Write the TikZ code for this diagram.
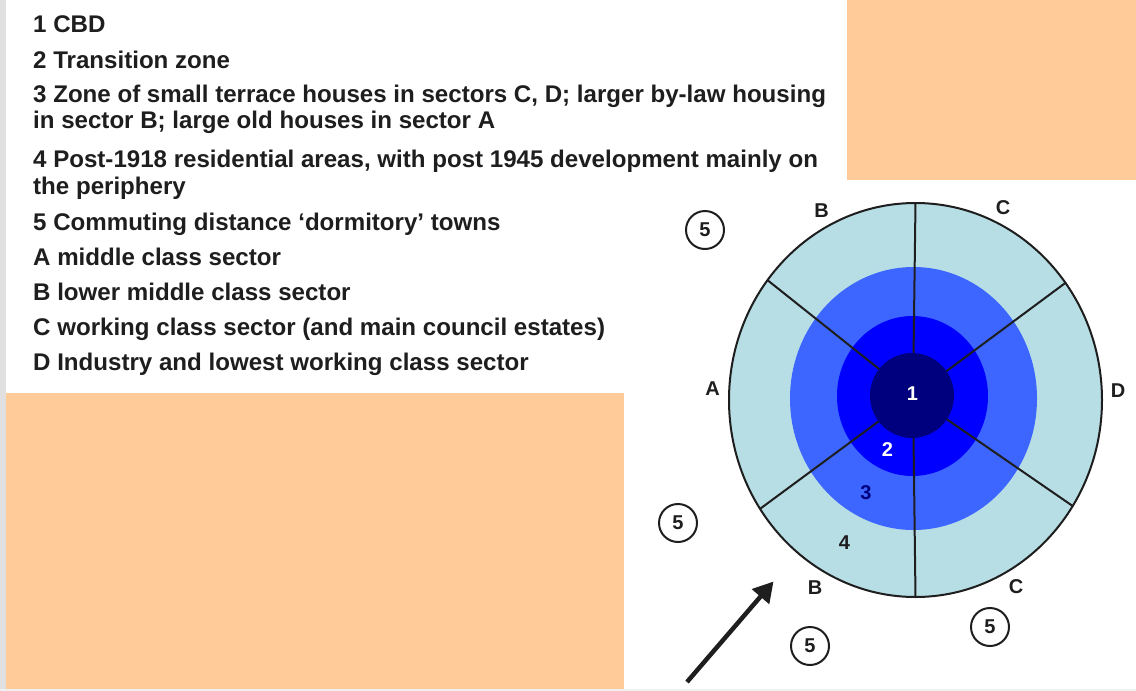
\documentclass[tikz,border=0pt]{standalone}
\usepackage{fontspec}
\setmainfont{Liberation Sans}
\usetikzlibrary{shapes.geometric,arrows.meta}
\definecolor{peach}{HTML}{FFCC99}
\definecolor{zfour}{HTML}{B7DDE5}
\definecolor{zthree}{HTML}{3C66FF}
\definecolor{ztwo}{HTML}{0000FF}
\definecolor{zcbd}{HTML}{00007E}
\definecolor{txt}{HTML}{1E1E1E}
\tikzset{
  legend/.style={anchor=base west, inner sep=0pt, font=\fontsize{24.1}{26}\selectfont\bfseries, text=txt},
  zonebox/.style={ellipse, inner sep=0pt, outer sep=0pt},
  sector/.style={line width=2pt, draw=txt},
  lab/.style={inner sep=0pt, font=\fontsize{20}{20}\selectfont\bfseries, text=txt},
  five/.style={circle, draw=txt, line width=2pt, minimum size=38pt, inner sep=0pt, font=\fontsize{20}{20}\selectfont\bfseries, text=txt}
}
\begin{document}
\begin{tikzpicture}[x=1pt,y=-1pt]
\useasboundingbox (0,0) rectangle (1136,691);
\fill[white] (0,0) rectangle (1136,691);
% frame strips
\fill[black!12] (0,0) rectangle (6,691);
\fill[black!6] (0,689) rectangle (1136,691);
% peach panels
\fill[peach] (847,0) rectangle (1136,180);
\fill[peach] (6,393) rectangle (624,689);
% legend
\node[legend] (t1) at (33,32) {1 CBD};
\node[legend] (t2) at (33,68) {2 Transition zone};
\node[legend] (t3a) at (33,102) {3 Zone of small terrace houses in sectors C, D; larger by-law housing};
\node[legend] (t3b) at (33,128) {in sector B; large old houses in sector A};
\node[legend] (t4a) at (33,167) {4 Post-1918 residential areas, with post 1945 development mainly on};
\node[legend] (t4b) at (33,194) {the periphery};
\node[legend] (t5) at (33,230) {5 Commuting distance ‘dormitory’ towns};
\node[legend] (tA) at (33,265) {A middle class sector};
\node[legend] (tB) at (33,300) {B lower middle class sector};
\node[legend] (tC) at (33,335) {C working class sector (and main council estates)};
\node[legend] (tD) at (33,370) {D Industry and lowest working class sector};
% zones
\node[zonebox, draw=txt, line width=2pt, fill=zfour, minimum width=373pt, minimum height=394pt] (z4) at (915.5,400) {};
\node[zonebox, fill=zthree, minimum width=247pt, minimum height=263pt] (z3) at (913.5,398.5) {};
\node[zonebox, fill=ztwo, minimum width=151pt, minimum height=160pt] (z2) at (912.5,396) {};
\coordinate (c) at (913,396);
\draw[sector] (c) -- (z4.90);
\draw[sector] (c) -- (z4.141);
\draw[sector] (c) -- (z4.38.7);
\draw[sector] (c) -- (z4.215.2);
\draw[sector] (c) -- (z4.326.4);
\draw[sector] (c) -- (z4.270);
\node[zonebox, fill=zcbd, minimum width=84pt, minimum height=85pt] (z1) at (912,395.5) {};
% zone numbers
\node[lab, text=white] (n1) at (912.5,394) {1};
\node[lab, text=white] (n2) at (887.5,449.5) {2};
\node[lab, text=zcbd] (n3) at (866,493) {3};
\node[lab] (n4) at (844.5,543) {4};
% sector letters
\node[lab] (lBt) at (821.5,210.5) {B};
\node[lab] (lCt) at (1003,208) {C};
\node[lab] (lA) at (712.5,389) {A};
\node[lab] (lD) at (1118,391) {D};
\node[lab] (lBb) at (815,587.5) {B};
\node[lab] (lCb) at (1016,586.5) {C};
% dormitory towns
\node[five] (f1) at (705,230) {5};
\node[five] (f2) at (678,523) {5};
\node[five] (f3) at (810,646) {5};
\node[five] (f4) at (990,627) {5};
% arrow
\coordinate (atail) at (687,682);
\coordinate (ahead) at (773.5,581.5);
\draw[line width=4.5pt, txt, -{Triangle[length=20pt,width=22pt]}] (atail) -- (ahead);
\end{tikzpicture}
\end{document}
